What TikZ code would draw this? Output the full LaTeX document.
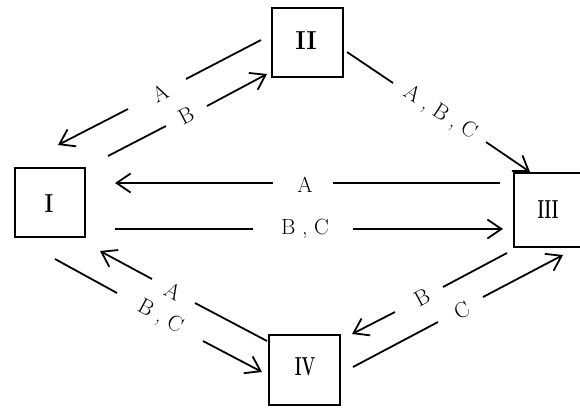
\documentclass[tikz,border=0pt]{standalone}
\usepackage{fontspec}
\setmainfont{Latin Modern Roman}
\usetikzlibrary{arrows.meta}
\begin{document}
\begin{tikzpicture}[x=1pt,y=-1pt,
  box/.style={draw, line width=2.8pt, inner sep=0pt},
  numfont/.style={inner sep=0pt, font=\fontsize{26}{30}\selectfont\bfseries},
  arr/.style={line width=1.8pt, -{Straight Barb[length=14pt,width=19pt,line width=1.8pt]}},
  lbl/.style={inner sep=0pt, font=\fontsize{22}{26}\selectfont}]
\useasboundingbox (0,0) rectangle (580,408);
\clip (0,0) rectangle (580,408);
% boxes
\node[box, minimum width=70pt, minimum height=69pt] (n1) at (50,202.5) {};
\node[box, minimum width=71pt, minimum height=69pt] (n2) at (307.5,42.5) {};
\node[box, minimum width=68pt, minimum height=74pt] (n3) at (548,210) {};
\node[box, minimum width=71pt, minimum height=70pt] (n4) at (304.5,370) {};
\node[numfont] (t1) at (49,204) {\scalebox{0.8}[1]{I}};
\node[numfont] (t2) at (306,41) {\scalebox{0.95}[1]{II}};
\node[numfont] (t3) at (548,210) {\scalebox{0.6}[1]{III}};
\node[numfont] (t4) at (305,367) {\scalebox{0.62}[1]{IV}};
% endpoints
\coordinate (a1) at (261,40);  \coordinate (a2) at (186,79);  \coordinate (a3) at (128,109); \coordinate (a4) at (58,145);
\coordinate (b1) at (108,156); \coordinate (b2) at (166,126); \coordinate (b3) at (207,106); \coordinate (b4) at (267,74);
\coordinate (c1) at (347,52);  \coordinate (c2) at (393,83);  \coordinate (c3) at (486,142); \coordinate (c4) at (530,172);
\coordinate (d1) at (500,183); \coordinate (d2) at (333,183); \coordinate (d3) at (273,183); \coordinate (d4) at (115,183);
\coordinate (e1) at (115,229); \coordinate (e2) at (253,229); \coordinate (e3) at (353,229); \coordinate (e4) at (503,229);
\coordinate (f1) at (267,341); \coordinate (f2) at (195,303); \coordinate (f3) at (152,279); \coordinate (f4) at (100,251);
\coordinate (g1) at (55,259);  \coordinate (g2) at (117,293); \coordinate (g3) at (203,341); \coordinate (g4) at (262,372);
\coordinate (h1) at (507,253); \coordinate (h2) at (443,287); \coordinate (h3) at (395,312); \coordinate (h4) at (352,334);
\coordinate (k1) at (353,367); \coordinate (k2) at (438,322); \coordinate (k3) at (483,297); \coordinate (k4) at (563,255);
% connectors
\draw[arr] (a1) -- (a2) (a3) -- (a4);
\draw[arr] (b1) -- (b2) (b3) -- (b4);
\draw[arr] (c1) -- (c2) (c3) -- (c4);
\draw[arr] (d1) -- (d2) (d3) -- (d4);
\draw[arr] (e1) -- (e2) (e3) -- (e4);
\draw[arr] (f1) -- (f2) (f3) -- (f4);
\draw[arr] (g1) -- (g2) (g3) -- (g4);
\draw[arr] (h1) -- (h2) (h3) -- (h4);
\draw[arr] (k1) -- (k2) (k3) -- (k4);
% labels
\node[lbl, rotate=27.3] (la) at (160,93) {A};
\node[lbl, rotate=27.3] (lb) at (186,116) {B};
\node[lbl, rotate=-32.5] (lc) at (440,113) {A , B , C};
\node[lbl] (ld) at (305,185) {A};
\node[lbl] (le) at (305,229) {B , C};
\node[lbl, rotate=-28.3] (lf) at (173,291) {A};
\node[lbl, rotate=-28.6] (lg) at (160,317) {B , C};
\node[lbl, rotate=27.9] (lh) at (422,297) {B};
\node[lbl, rotate=27.7] (lk) at (462,310) {C};
\end{tikzpicture}
\end{document}
